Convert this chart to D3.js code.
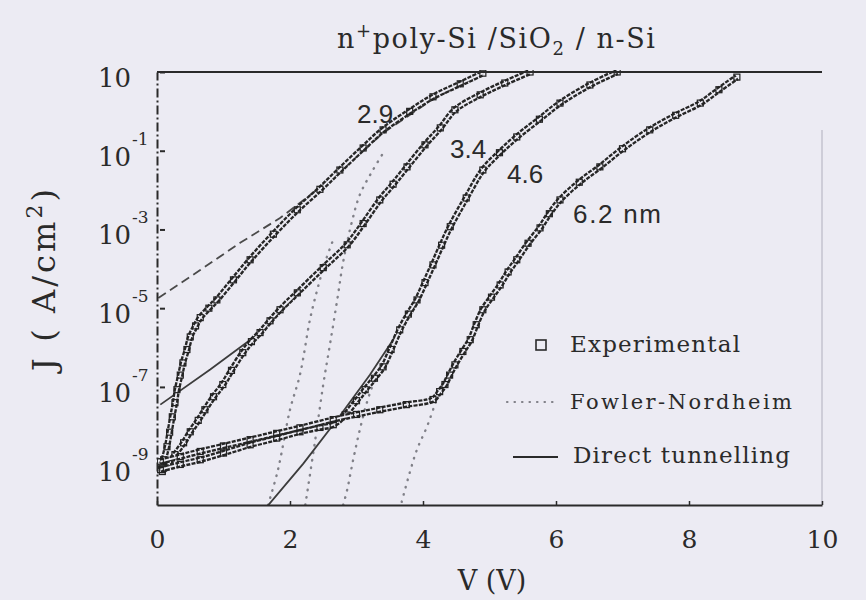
<!DOCTYPE html>
<html><head><meta charset="utf-8">
<script src="https://cdn.jsdelivr.net/npm/d3@7"></script>
<style>body{margin:0;background:#ecebf3;} svg{display:block}</style>
</head><body>
<svg id="c" width="866" height="600"></svg>
<script>
// ---------- data (V in volts, log10 of J in A/cm^2) ----------
const xTicks = [0, 2, 4, 6, 8, 10];
const yTickExps = [1, -1, -3, -5, -7, -9];
const thicknessLabels = ["2.9", "3.4", "4.6", "6.2 nm"];
const legendLabels = ["Experimental", "Fowler-Nordheim", "Direct tunnelling"];

const exp29 = [[0.05,-9.10],[0.10,-8.85],[0.15,-8.52],[0.19,-8.15],[0.23,-7.76],[0.27,-7.40],[0.30,-7.07],[0.35,-6.70],[0.39,-6.39],[0.45,-6.05],[0.50,-5.73],[0.58,-5.45],[0.65,-5.24],[0.78,-5.00],[0.90,-4.79],[1.15,-4.28],[1.40,-3.77],[1.75,-3.12],[2.11,-2.50],[2.45,-1.98],[2.75,-1.49],[3.10,-0.93],[3.40,-0.47],[3.80,0.0],[4.15,0.37],[4.56,0.70],[4.90,0.97]];
const exp34 = [[0.08,-9.15],[0.18,-8.95],[0.27,-8.72],[0.40,-8.42],[0.50,-8.14],[0.62,-7.85],[0.72,-7.58],[0.85,-7.25],[0.99,-6.94],[1.12,-6.58],[1.29,-6.13],[1.42,-5.85],[1.55,-5.62],[1.70,-5.32],[1.85,-5.04],[2.11,-4.61],[2.50,-3.97],[2.86,-3.39],[3.10,-2.85],[3.35,-2.25],[3.55,-1.85],[3.76,-1.41],[4.03,-0.85],[4.26,-0.42],[4.48,0.04],[4.86,0.42],[5.23,0.72],[5.61,1.0]];
const exp46 = [[0.05,-9.10],[0.35,-8.97],[0.65,-8.85],[1.0,-8.68],[1.40,-8.47],[1.80,-8.30],[2.15,-8.14],[2.45,-8.03],[2.65,-7.96],[2.83,-7.71],[3.0,-7.35],[3.13,-7.07],[3.27,-6.78],[3.40,-6.49],[3.52,-6.05],[3.65,-5.55],[3.78,-5.15],[3.91,-4.79],[4.03,-4.35],[4.15,-3.90],[4.28,-3.40],[4.41,-2.93],[4.65,-2.20],[4.90,-1.49],[5.15,-1.05],[5.41,-0.65],[5.75,-0.20],[6.06,0.21],[6.51,0.67],[6.92,1.0]];
const exp62 = [[0.05,-8.90],[0.35,-8.77],[0.65,-8.64],[1.0,-8.50],[1.40,-8.34],[1.80,-8.18],[2.15,-8.04],[2.65,-7.83],[3.0,-7.70],[3.35,-7.58],[3.75,-7.45],[4.15,-7.32],[4.25,-7.12],[4.33,-6.94],[4.40,-6.70],[4.48,-6.44],[4.60,-6.10],[4.71,-5.80],[4.80,-5.42],[4.90,-5.04],[5.03,-4.72],[5.16,-4.41],[5.28,-4.08],[5.41,-3.77],[5.58,-3.35],[5.76,-2.96],[5.90,-2.60],[6.06,-2.25],[6.35,-1.80],[6.66,-1.41],[7.0,-0.95],[7.41,-0.47],[7.80,-0.10],[8.17,0.21],[8.45,0.55],[8.72,0.87]];

const fnA = [[1.67,-10.0],[1.82,-9.10],[2.00,-7.58],[2.15,-6.69],[2.30,-5.29],[2.41,-4.53],[2.53,-3.82],[2.65,-3.26]];
const fnB = [[2.23,-10.0],[2.38,-8.34],[2.50,-6.94],[2.60,-5.93],[2.71,-4.79],[2.80,-3.82],[2.93,-2.81],[3.05,-2.12],[3.23,-1.54],[3.43,-0.98]];
const fnC = [[2.80,-10.0],[2.86,-9.61],[2.95,-8.85],[3.05,-8.09],[3.17,-7.32],[3.29,-6.77],[3.43,-6.31]];
const fnD = [[3.68,-9.92],[3.80,-9.18],[3.91,-8.59],[4.06,-8.01],[4.21,-7.32],[4.36,-6.82],[4.48,-6.44]];

const dt29 = [[0.02,-4.74],[0.65,-4.03],[1.25,-3.34],[1.85,-2.71],[2.40,-2.0],[2.75,-1.54],[3.40,-0.55],[4.15,0.31],[4.90,0.97]];
const dt34 = [[0.05,-7.45],[0.80,-6.56],[1.55,-5.62],[1.85,-5.10],[2.11,-4.65]];
const dt46 = [[1.65,-10.05],[2.20,-8.95],[2.71,-7.83],[3.20,-6.70],[3.65,-5.55],[3.91,-4.85]];

// ---------- drawing ----------
const BG = "#ecebf3", INK = "#2a2a2a";
const SERIF = "'DejaVu Serif', serif", SANS = "'Liberation Sans', Arial, sans-serif";
const svg = d3.select("#c");
svg.append("rect").attr("width", 866).attr("height", 600).attr("fill", BG);

const x = d3.scaleLinear().domain([0, 10]).range([157, 822]);
const y = d3.scaleLog().domain([1e-10, 10]).range([505, 72]);
const curveLine = d3.line().x(d => x(d[0])).y(d => y(Math.pow(10, d[1]))).curve(d3.curveCatmullRom);
const straight = d3.line().x(d => x(d[0])).y(d => y(Math.pow(10, d[1])));

svg.append("clipPath").attr("id", "clip").append("rect")
  .attr("x", 157).attr("y", 70).attr("width", 667).attr("height", 436);
const g = svg.append("g").attr("clip-path", "url(#clip)");

// faint right border
svg.append("line").attr("x1", x(10)).attr("x2", x(10)).attr("y1", 130).attr("y2", 505)
  .attr("stroke", "#c4c3cf").attr("stroke-width", 1.5);

// Fowler-Nordheim dotted
[fnA, fnB, fnC, fnD].forEach(d => {
  g.append("path").attr("d", curveLine(d)).attr("fill", "none").attr("stroke", "#808088")
    .attr("stroke-width", 2.4).attr("stroke-linecap", "round").attr("stroke-dasharray", "0.5 7");
});
// Direct tunnelling
g.append("path").attr("d", straight(dt29)).attr("fill", "none").attr("stroke", "#4a4a4a")
  .attr("stroke-width", 1.8).attr("stroke-dasharray", "9 5");
[dt34, dt46].forEach(d => {
  g.append("path").attr("d", straight(d)).attr("fill", "none").attr("stroke", "#3c3c3c").attr("stroke-width", 1.8);
});

// Experimental chains of open squares
[exp29, exp34, exp46, exp62].forEach(d => {
  g.append("path").attr("d", curveLine(d)).attr("fill", "none").attr("stroke", "#262626")
    .attr("stroke-width", 6.5).attr("stroke-dasharray", "4 1.3");
  g.append("path").attr("d", curveLine(d)).attr("fill", "none").attr("stroke", BG).attr("stroke-width", 1.8);
  g.selectAll(null).data(d).enter().append("rect")
    .attr("x", p => x(p[0]) - 3).attr("y", p => y(Math.pow(10, p[1])) - 3)
    .attr("width", 6).attr("height", 6).attr("fill", "none")
    .attr("stroke", "#222").attr("stroke-width", 1.2);
});

// top frame line
svg.append("line").attr("x1", x(0)).attr("x2", x(10)).attr("y1", y(10)).attr("y2", y(10))
  .attr("stroke", INK).attr("stroke-width", 2);

// x axis
const gx = svg.append("g").attr("transform", "translate(0,505)")
  .call(d3.axisBottom(x).tickValues(xTicks).tickSize(-4).tickSizeOuter(0).tickPadding(25).tickFormat(d3.format("d")));
gx.select(".domain").attr("stroke", INK).attr("stroke-width", 2);
gx.selectAll(".tick line").attr("stroke", INK).attr("stroke-width", 1.5);
gx.selectAll(".tick text").attr("font-family", SERIF).attr("font-size", 25).attr("fill", INK);

// y axis
const gy = svg.append("g").attr("transform", "translate(157,0)")
  .call(d3.axisLeft(y).tickValues(yTickExps.map(e => Math.pow(10, e))).tickSize(-5).tickSizeOuter(0).tickFormat(""));
gy.select(".domain").attr("stroke", INK).attr("stroke-width", 2).attr("stroke-dasharray", "9 3 2 3");
gy.selectAll(".tick line").attr("stroke", INK).attr("stroke-width", 2).attr("transform", "translate(3,0)");
yTickExps.forEach(e => {
  const yy = y(Math.pow(10, e));
  svg.append("text").attr("x", 131).attr("y", yy + 15).attr("text-anchor", "end")
    .attr("font-family", SERIF).attr("font-size", 26).attr("fill", INK).text("10");
  if (e !== 1) {
    svg.append("text").attr("x", 132).attr("y", yy - 6).attr("font-family", SERIF)
      .attr("font-size", 17).attr("fill", INK).text(String(e));
  }
});

// axis titles
svg.append("text").attr("x", 492).attr("y", 590).attr("text-anchor", "middle")
  .attr("font-family", SERIF).attr("font-size", 27).attr("fill", INK).text("V (V)");
const yl = svg.append("text").attr("transform", "translate(55,280) rotate(-90)").attr("text-anchor", "middle")
  .attr("font-family", SERIF).attr("font-size", 32).attr("fill", INK)
  .attr("textLength", 182).attr("lengthAdjust", "spacing");
yl.append("tspan").text("J ( A/cm");
yl.append("tspan").attr("dy", -13).attr("font-size", 22).text("2");
yl.append("tspan").attr("dy", 13).text(")");

// title
const tt = svg.append("text").attr("x", 337).attr("y", 48).attr("font-family", SERIF)
  .attr("font-size", 27).attr("fill", INK).attr("textLength", 318).attr("lengthAdjust", "spacing");
tt.append("tspan").text("n");
tt.append("tspan").attr("dy", -11).attr("font-size", 18).text("+");
tt.append("tspan").attr("dy", 11).text("poly-Si /SiO");
tt.append("tspan").attr("dy", 7).attr("font-size", 18).text("2");
tt.append("tspan").attr("dy", -7).text(" / n-Si");

// thickness labels
const lblPos = [[357,123],[450,158],[507,183],[573,223]];
thicknessLabels.forEach((t, i) => {
  const el = svg.append("text").attr("x", lblPos[i][0]).attr("y", lblPos[i][1]).attr("font-family", SANS)
    .attr("font-size", 26).attr("fill", INK).text(t);
  if (i === 3) el.attr("textLength", 88).attr("lengthAdjust", "spacing");
});

// legend
svg.append("rect").attr("x", 536).attr("y", 340).attr("width", 10).attr("height", 10)
  .attr("fill", "none").attr("stroke", INK).attr("stroke-width", 1.6);
svg.append("line").attr("x1", 507).attr("x2", 557).attr("y1", 402).attr("y2", 402)
  .attr("stroke", "#808088").attr("stroke-width", 2.2).attr("stroke-linecap", "round").attr("stroke-dasharray", "0.5 7");
svg.append("line").attr("x1", 513).attr("x2", 558).attr("y1", 457).attr("y2", 457)
  .attr("stroke", INK).attr("stroke-width", 2);
const legY = [352, 409, 463], legX = [570, 570, 573], legFs = [23, 21, 23], legLen = [170, 222, 217];
legendLabels.forEach((t, i) => {
  svg.append("text").attr("x", legX[i]).attr("y", legY[i]).attr("font-family", SERIF)
    .attr("font-size", legFs[i]).attr("fill", INK)
    .attr("textLength", legLen[i]).attr("lengthAdjust", "spacing").text(t);
});
</script>
</body></html>
